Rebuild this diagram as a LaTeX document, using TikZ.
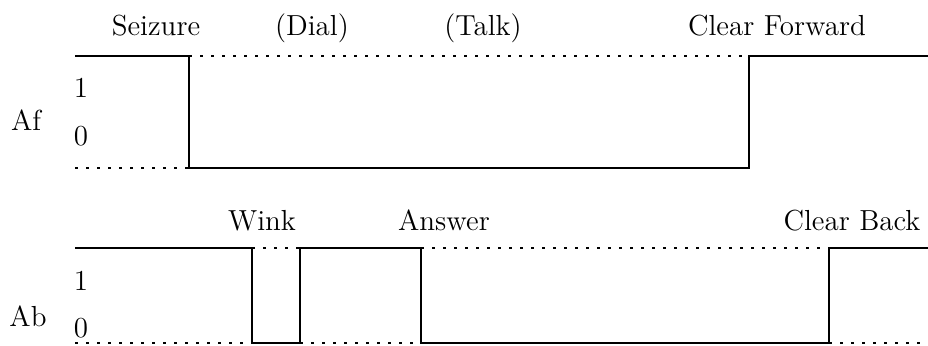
\documentclass[tikz,border=0pt]{standalone}
\begin{document}
\begin{tikzpicture}[x=0.5pt,y=-0.5pt,
  wave/.style={line width=0.8pt},
  idle/.style={line width=0.8pt, dash pattern=on 1.5pt off 4pt},
  lbl/.style={font=\fontsize{14.5}{17}\selectfont, inner sep=0pt, anchor=base}]
\useasboundingbox (0,0) rectangle (928,345);

% ---- Af (forward) signal ----
\draw[wave] (75,56) -- (189,56) -- (189,168) -- (749,168) -- (749,56) -- (928,56);
\draw[idle] (75,168) -- (189,168);
\draw[idle] (189,56) -- (749,56);

\node[lbl] (seize) at (156,35) {Seizure};
\node[lbl] (dial)  at (312,35) {(Dial)};
\node[lbl] (talk)  at (483,35) {(Talk)};
\node[lbl] (clrf)  at (777,35) {Clear Forward};
\node[lbl] (af)    at (26,130) {Af};
\node[lbl] (af1)   at (81,97) {1};
\node[lbl] (af0)   at (81,145) {0};

% ---- Ab (backward) signal ----
\draw[wave] (75,248) -- (252,248) -- (252,343) -- (300,343) -- (300,248)
  -- (421,248) -- (421,343) -- (829,343) -- (829,248) -- (928,248);
\draw[idle] (75,343) -- (252,343);
\draw[idle] (252,248) -- (300,248);
\draw[idle] (300,343) -- (421,343);
\draw[idle] (421,248) -- (829,248);
\draw[idle] (829,343) -- (928,343);

\node[lbl] (wink)  at (262,230) {Wink};
\node[lbl] (ans)   at (444,230) {Answer};
\node[lbl] (clrb)  at (852,230) {Clear Back};
\node[lbl] (ab)    at (28,326) {Ab};
\node[lbl] (ab1)   at (81,290) {1};
\node[lbl] (ab0)   at (81,337) {0};
\end{tikzpicture}
\end{document}
